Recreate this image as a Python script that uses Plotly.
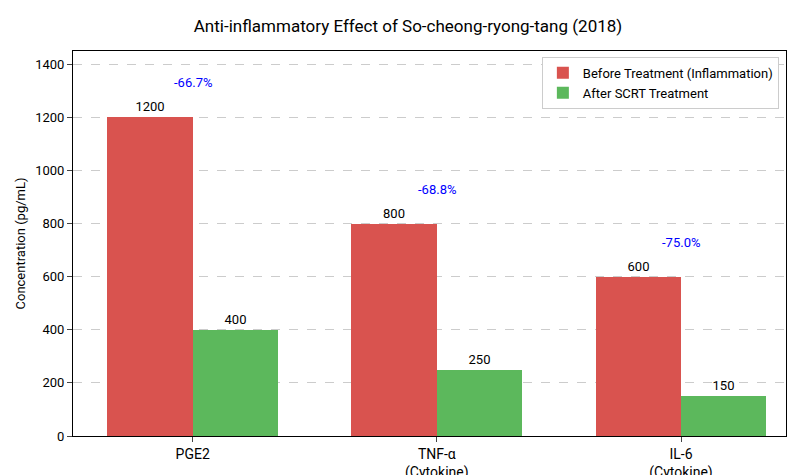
import plotly.graph_objects as go

# Data
categories = ["PGE2", "TNF-α<br>(Cytokine)", "IL-6<br>(Cytokine)"]
before = [1200, 800, 600]
after = [400, 250, 150]
yticks = [0, 200, 400, 600, 800, 1000, 1200, 1400]

red = "#d9534f"
green = "#5cb85c"
xs = list(range(len(categories)))
w = 0.35

fig = go.Figure()
fig.add_trace(go.Bar(x=[i - w / 2 for i in xs], y=before, width=w, marker_color=red,
                     marker_line_width=0,
                     name="Before Treatment (Inflammation)",
                     text=[str(v) for v in before], textposition="outside",
                     textfont=dict(color="black", size=13)))
fig.add_trace(go.Bar(x=[i + w / 2 for i in xs], y=after, width=w, marker_color=green,
                     marker_line_width=0,
                     name="After SCRT Treatment",
                     text=[str(v) for v in after], textposition="outside",
                     textfont=dict(color="black", size=13)))

# Reduction percentages
for i, (b, a) in enumerate(zip(before, after)):
    pct = (a - b) / b * 100
    fig.add_annotation(x=i, y=b + 130, text=f"{pct:.1f}%", showarrow=False,
                       font=dict(color="blue", size=13))

fig.update_layout(
    width=800, height=475,
    font=dict(family="Roboto", size=13, color="black"),
    title=dict(text="Anti-inflammatory Effect of So-cheong-ryong-tang (2018)",
               x=0.5, xanchor="center", y=0.975, font=dict(size=17)),
    plot_bgcolor="white", paper_bgcolor="white",
    margin=dict(l=65, r=22, t=43, b=47, autoexpand=False),
    bargap=0,
    legend=dict(x=0.99, y=0.985, xanchor="right", yanchor="top",
                bordercolor="#cccccc", borderwidth=1, font=dict(size=13)),
)
fig.update_xaxes(range=[-0.49, 2.43], tickvals=xs, ticktext=categories,
                 showline=True, linecolor="black", mirror=True, ticks="outside",
                 showgrid=False, tickfont=dict(size=14))
fig.update_yaxes(range=[0, 1450], tickvals=yticks,
                 title=dict(text="Concentration (pg/mL)", font=dict(size=13), standoff=6),
                 showline=True, linecolor="black", mirror=True, ticks="outside",
                 showgrid=True, gridcolor="#cccccc", griddash="dash", zeroline=False,
                 automargin=False)

fig.write_html("out.html")
